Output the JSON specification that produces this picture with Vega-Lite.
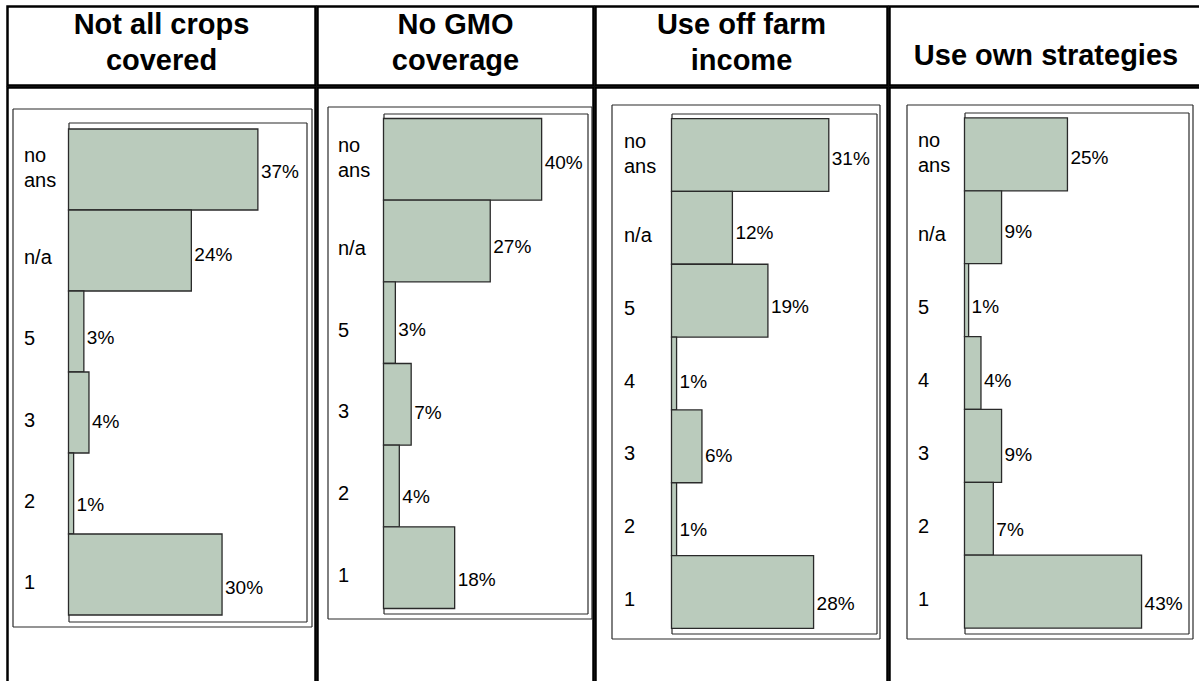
{
  "$schema": "https://vega.github.io/schema/vega-lite/v6.json",
  "padding": {"left": 5.5, "top": 4.5, "right": 0, "bottom": 0},
  "background": "white",
  "datasets": {
    "headers": [
      {"panel": "A", "title": "Not all crops\ncovered"},
      {"panel": "B", "title": "No GMO\ncoverage"},
      {"panel": "C", "title": "Use off farm\nincome"},
      {"panel": "D", "title": "Use own strategies"}
    ],
    "bars": [
      {"panel": "A", "answer": "no ans", "pct": 0.37},
      {"panel": "A", "answer": "n/a", "pct": 0.24},
      {"panel": "A", "answer": "5", "pct": 0.03},
      {"panel": "A", "answer": "3", "pct": 0.04},
      {"panel": "A", "answer": "2", "pct": 0.01},
      {"panel": "A", "answer": "1", "pct": 0.30},
      {"panel": "B", "answer": "no ans", "pct": 0.40},
      {"panel": "B", "answer": "n/a", "pct": 0.27},
      {"panel": "B", "answer": "5", "pct": 0.03},
      {"panel": "B", "answer": "3", "pct": 0.07},
      {"panel": "B", "answer": "2", "pct": 0.04},
      {"panel": "B", "answer": "1", "pct": 0.18},
      {"panel": "C", "answer": "no ans", "pct": 0.31},
      {"panel": "C", "answer": "n/a", "pct": 0.12},
      {"panel": "C", "answer": "5", "pct": 0.19},
      {"panel": "C", "answer": "4", "pct": 0.01},
      {"panel": "C", "answer": "3", "pct": 0.06},
      {"panel": "C", "answer": "2", "pct": 0.01},
      {"panel": "C", "answer": "1", "pct": 0.28},
      {"panel": "D", "answer": "no ans", "pct": 0.25},
      {"panel": "D", "answer": "n/a", "pct": 0.09},
      {"panel": "D", "answer": "5", "pct": 0.01},
      {"panel": "D", "answer": "4", "pct": 0.04},
      {"panel": "D", "answer": "3", "pct": 0.09},
      {"panel": "D", "answer": "2", "pct": 0.07},
      {"panel": "D", "answer": "1", "pct": 0.43}
    ]
  },
  "config": {
    "view": {"stroke": "black", "strokeWidth": 2.5},
    "concat": {"spacing": -5},
    "font": "Liberation Sans",
    "axis": {"domainColor": "#2a2a2a", "domainWidth": 1.2, "ticks": false, "tickSize": 0, "grid": false, "labels": false}
  },
  "spacing": -5,
  "hconcat": [
    {
      "spacing": -5,
      "vconcat": [
        {
          "data": {"name": "headers"},
          "transform": [{"filter": "datum.panel == 'A'"}],
          "width": 308, "height": 79,
          "view": {"stroke": "black", "strokeWidth": 2.5, "fill": "white"},
          "mark": {"type": "text", "fontWeight": "bold", "fontSize": 29, "lineBreak": "\n", "lineHeight": 36, "baseline": "middle", "align": "center", "dy": -21.5, "color": "black"},
          "encoding": {"text": {"field": "title", "type": "nominal"}}
        },
        {
          "data": {"name": "bars"},
          "transform": [{"filter": "datum.panel == 'A'"}],
          "width": 308, "height": 597,
          "resolve": {"scale": {"x": "independent", "y": "independent"}},
          "layer": [
            {
              "mark": {"type": "bar", "fill": "#bacbbc", "stroke": "#2a2a2a", "strokeWidth": 1.3},
              "encoding": {
                "y": {"field": "answer", "type": "nominal", "scale": {"domain": ["no ans", "n/a", "5", "3", "2", "1"], "range": [35, 534], "paddingInner": 0, "paddingOuter": 0.08},
                  "axis": {"orient": "left", "offset": -61, "title": null, "labels": true, "labelAlign": "left", "labelPadding": 45, "labelFontSize": 20, "labelColor": "black", "labelBaseline": "middle", "labelLineHeight": 25, "labelExpr": "datum.value == 'no ans' ? ['no', 'ans'] : datum.label", "labelOffset": {"condition": {"test": "datum.value == 'no ans'", "value": -13}, "value": 8}}},
                "x": {"field": "pct", "type": "quantitative", "scale": {"domain": [0, 0.465], "range": [61, 299], "nice": false}, "axis": {"orient": "top", "offset": -35, "title": null}}
              }
            },
            {
              "mark": {"type": "text", "align": "left", "baseline": "middle", "dx": 3, "dy": 8, "fontSize": 19, "color": "black"},
              "encoding": {
                "y": {"field": "answer", "type": "nominal", "scale": {"domain": ["no ans", "n/a", "5", "3", "2", "1"], "range": [35, 534], "paddingInner": 0, "paddingOuter": 0.08}, "axis": null},
                "x": {"field": "pct", "type": "quantitative", "scale": {"domain": [0, 0.465], "range": [61, 299], "nice": false}, "axis": null},
                "text": {"field": "pct", "type": "quantitative", "format": ".0%"}
              }
            },
            {
              "mark": {"type": "point", "opacity": 0},
              "encoding": {
                "y": {"field": "answer", "type": "nominal", "scale": {"domain": ["no ans", "n/a", "5", "3", "2", "1"], "range": [35, 534], "paddingInner": 0, "paddingOuter": 0.08}, "axis": {"orient": "right", "offset": -9, "title": null}},
                "x": {"field": "pct", "type": "quantitative", "scale": {"domain": [0, 0.465], "range": [61, 299], "nice": false}, "axis": {"orient": "bottom", "offset": -63, "title": null}}
              }
            },
            {
              "mark": {"type": "point", "opacity": 0},
              "encoding": {
                "y": {"field": "answer", "type": "nominal", "scale": {"domain": ["no ans", "n/a", "5", "3", "2", "1"], "range": [21, 539]}, "axis": {"orient": "left", "offset": -5, "title": null}},
                "x": {"field": "pct", "type": "quantitative", "scale": {"domain": [0, 0.465], "range": [5, 304], "nice": false}, "axis": {"orient": "top", "offset": -21, "title": null}}
              }
            },
            {
              "mark": {"type": "point", "opacity": 0},
              "encoding": {
                "y": {"field": "answer", "type": "nominal", "scale": {"domain": ["no ans", "n/a", "5", "3", "2", "1"], "range": [21, 539]}, "axis": {"orient": "right", "offset": -4, "title": null}},
                "x": {"field": "pct", "type": "quantitative", "scale": {"domain": [0, 0.465], "range": [5, 304], "nice": false}, "axis": {"orient": "bottom", "offset": -58, "title": null}}
              }
            }
          ]
        }
      ]
    },
    {
      "spacing": -5,
      "vconcat": [
        {
          "data": {"name": "headers"},
          "transform": [{"filter": "datum.panel == 'B'"}],
          "width": 276, "height": 79,
          "view": {"stroke": "black", "strokeWidth": 2.5, "fill": "white"},
          "mark": {"type": "text", "fontWeight": "bold", "fontSize": 29, "lineBreak": "\n", "lineHeight": 36, "baseline": "middle", "align": "center", "dy": -21.5, "color": "black"},
          "encoding": {"text": {"field": "title", "type": "nominal"}}
        },
        {
          "data": {"name": "bars"},
          "transform": [{"filter": "datum.panel == 'B'"}],
          "width": 276, "height": 597,
          "resolve": {"scale": {"x": "independent", "y": "independent"}},
          "layer": [
            {
              "mark": {"type": "bar", "fill": "#bacbbc", "stroke": "#2a2a2a", "strokeWidth": 1.3},
              "encoding": {
                "y": {"field": "answer", "type": "nominal", "scale": {"domain": ["no ans", "n/a", "5", "3", "2", "1"], "range": [26, 526], "paddingInner": 0, "paddingOuter": 0.061},
                  "axis": {"orient": "left", "offset": -66, "title": null, "labels": true, "labelAlign": "left", "labelPadding": 46, "labelFontSize": 20, "labelColor": "black", "labelBaseline": "middle", "labelLineHeight": 25, "labelExpr": "datum.value == 'no ans' ? ['no', 'ans'] : datum.label", "labelOffset": {"condition": {"test": "datum.value == 'no ans'", "value": -13}, "value": 8}}},
                "x": {"field": "pct", "type": "quantitative", "scale": {"domain": [0, 0.516], "range": [66, 270], "nice": false}, "axis": {"orient": "top", "offset": -26, "title": null}}
              }
            },
            {
              "mark": {"type": "text", "align": "left", "baseline": "middle", "dx": 3, "dy": 8, "fontSize": 19, "color": "black"},
              "encoding": {
                "y": {"field": "answer", "type": "nominal", "scale": {"domain": ["no ans", "n/a", "5", "3", "2", "1"], "range": [26, 526], "paddingInner": 0, "paddingOuter": 0.061}, "axis": null},
                "x": {"field": "pct", "type": "quantitative", "scale": {"domain": [0, 0.516], "range": [66, 270], "nice": false}, "axis": null},
                "text": {"field": "pct", "type": "quantitative", "format": ".0%"}
              }
            },
            {
              "mark": {"type": "point", "opacity": 0},
              "encoding": {
                "y": {"field": "answer", "type": "nominal", "scale": {"domain": ["no ans", "n/a", "5", "3", "2", "1"], "range": [26, 526], "paddingInner": 0, "paddingOuter": 0.061}, "axis": {"orient": "right", "offset": -6, "title": null}},
                "x": {"field": "pct", "type": "quantitative", "scale": {"domain": [0, 0.516], "range": [66, 270], "nice": false}, "axis": {"orient": "bottom", "offset": -71, "title": null}}
              }
            },
            {
              "mark": {"type": "point", "opacity": 0},
              "encoding": {
                "y": {"field": "answer", "type": "nominal", "scale": {"domain": ["no ans", "n/a", "5", "3", "2", "1"], "range": [19, 531]}, "axis": {"orient": "left", "offset": -10, "title": null}},
                "x": {"field": "pct", "type": "quantitative", "scale": {"domain": [0, 0.516], "range": [10, 274], "nice": false}, "axis": {"orient": "top", "offset": -19, "title": null}}
              }
            },
            {
              "mark": {"type": "point", "opacity": 0},
              "encoding": {
                "y": {"field": "answer", "type": "nominal", "scale": {"domain": ["no ans", "n/a", "5", "3", "2", "1"], "range": [19, 531]}, "axis": {"orient": "right", "offset": -2, "title": null}},
                "x": {"field": "pct", "type": "quantitative", "scale": {"domain": [0, 0.516], "range": [10, 274], "nice": false}, "axis": {"orient": "bottom", "offset": -66, "title": null}}
              }
            }
          ]
        }
      ]
    },
    {
      "spacing": -5,
      "vconcat": [
        {
          "data": {"name": "headers"},
          "transform": [{"filter": "datum.panel == 'C'"}],
          "width": 292, "height": 79,
          "view": {"stroke": "black", "strokeWidth": 2.5, "fill": "white"},
          "mark": {"type": "text", "fontWeight": "bold", "fontSize": 29, "lineBreak": "\n", "lineHeight": 36, "baseline": "middle", "align": "center", "dy": -21.5, "color": "black"},
          "encoding": {"text": {"field": "title", "type": "nominal"}}
        },
        {
          "data": {"name": "bars"},
          "transform": [{"filter": "datum.panel == 'C'"}],
          "width": 292, "height": 597,
          "resolve": {"scale": {"x": "independent", "y": "independent"}},
          "layer": [
            {
              "mark": {"type": "bar", "fill": "#bacbbc", "stroke": "#2a2a2a", "strokeWidth": 1.3},
              "encoding": {
                "y": {"field": "answer", "type": "nominal", "scale": {"domain": ["no ans", "n/a", "5", "4", "3", "2", "1"], "range": [26, 546], "paddingInner": 0, "paddingOuter": 0.069},
                  "axis": {"orient": "left", "offset": -76, "title": null, "labels": true, "labelAlign": "left", "labelPadding": 48, "labelFontSize": 20, "labelColor": "black", "labelBaseline": "middle", "labelLineHeight": 25, "labelExpr": "datum.value == 'no ans' ? ['no', 'ans'] : datum.label", "labelOffset": {"condition": {"test": "datum.value == 'no ans'", "value": -13}, "value": 8}}},
                "x": {"field": "pct", "type": "quantitative", "scale": {"domain": [0, 0.404], "range": [76, 281], "nice": false}, "axis": {"orient": "top", "offset": -26, "title": null}}
              }
            },
            {
              "mark": {"type": "text", "align": "left", "baseline": "middle", "dx": 3, "dy": 8, "fontSize": 19, "color": "black"},
              "encoding": {
                "y": {"field": "answer", "type": "nominal", "scale": {"domain": ["no ans", "n/a", "5", "4", "3", "2", "1"], "range": [26, 546], "paddingInner": 0, "paddingOuter": 0.069}, "axis": null},
                "x": {"field": "pct", "type": "quantitative", "scale": {"domain": [0, 0.404], "range": [76, 281], "nice": false}, "axis": null},
                "text": {"field": "pct", "type": "quantitative", "format": ".0%"}
              }
            },
            {
              "mark": {"type": "point", "opacity": 0},
              "encoding": {
                "y": {"field": "answer", "type": "nominal", "scale": {"domain": ["no ans", "n/a", "5", "4", "3", "2", "1"], "range": [26, 546], "paddingInner": 0, "paddingOuter": 0.069}, "axis": {"orient": "right", "offset": -11, "title": null}},
                "x": {"field": "pct", "type": "quantitative", "scale": {"domain": [0, 0.404], "range": [76, 281], "nice": false}, "axis": {"orient": "bottom", "offset": -51, "title": null}}
              }
            },
            {
              "mark": {"type": "point", "opacity": 0},
              "encoding": {
                "y": {"field": "answer", "type": "nominal", "scale": {"domain": ["no ans", "n/a", "5", "4", "3", "2", "1"], "range": [17, 551]}, "axis": {"orient": "left", "offset": -16, "title": null}},
                "x": {"field": "pct", "type": "quantitative", "scale": {"domain": [0, 0.404], "range": [16, 284], "nice": false}, "axis": {"orient": "top", "offset": -17, "title": null}}
              }
            },
            {
              "mark": {"type": "point", "opacity": 0},
              "encoding": {
                "y": {"field": "answer", "type": "nominal", "scale": {"domain": ["no ans", "n/a", "5", "4", "3", "2", "1"], "range": [17, 551]}, "axis": {"orient": "right", "offset": -8, "title": null}},
                "x": {"field": "pct", "type": "quantitative", "scale": {"domain": [0, 0.404], "range": [16, 284], "nice": false}, "axis": {"orient": "bottom", "offset": -46, "title": null}}
              }
            }
          ]
        }
      ]
    },
    {
      "spacing": -5,
      "vconcat": [
        {
          "data": {"name": "headers"},
          "transform": [{"filter": "datum.panel == 'D'"}],
          "width": 313, "height": 79,
          "view": {"stroke": "black", "strokeWidth": 2.5, "fill": "white"},
          "mark": {"type": "text", "fontWeight": "bold", "fontSize": 29, "lineBreak": "\n", "lineHeight": 36, "baseline": "middle", "align": "center", "dy": 9.5, "color": "black"},
          "encoding": {"text": {"field": "title", "type": "nominal"}}
        },
        {
          "data": {"name": "bars"},
          "transform": [{"filter": "datum.panel == 'D'"}],
          "width": 313, "height": 597,
          "resolve": {"scale": {"x": "independent", "y": "independent"}},
          "layer": [
            {
              "mark": {"type": "bar", "fill": "#bacbbc", "stroke": "#2a2a2a", "strokeWidth": 1.3},
              "encoding": {
                "y": {"field": "answer", "type": "nominal", "scale": {"domain": ["no ans", "n/a", "5", "4", "3", "2", "1"], "range": [25, 546], "paddingInner": 0, "paddingOuter": 0.075},
                  "axis": {"orient": "left", "offset": -75, "title": null, "labels": true, "labelAlign": "left", "labelPadding": 47, "labelFontSize": 20, "labelColor": "black", "labelBaseline": "middle", "labelLineHeight": 25, "labelExpr": "datum.value == 'no ans' ? ['no', 'ans'] : datum.label", "labelOffset": {"condition": {"test": "datum.value == 'no ans'", "value": -13}, "value": 8}}},
                "x": {"field": "pct", "type": "quantitative", "scale": {"domain": [0, 0.544], "range": [75, 299], "nice": false}, "axis": {"orient": "top", "offset": -25, "title": null}}
              }
            },
            {
              "mark": {"type": "text", "align": "left", "baseline": "middle", "dx": 3, "dy": 8, "fontSize": 19, "color": "black"},
              "encoding": {
                "y": {"field": "answer", "type": "nominal", "scale": {"domain": ["no ans", "n/a", "5", "4", "3", "2", "1"], "range": [25, 546], "paddingInner": 0, "paddingOuter": 0.075}, "axis": null},
                "x": {"field": "pct", "type": "quantitative", "scale": {"domain": [0, 0.544], "range": [75, 299], "nice": false}, "axis": null},
                "text": {"field": "pct", "type": "quantitative", "format": ".0%"}
              }
            },
            {
              "mark": {"type": "point", "opacity": 0},
              "encoding": {
                "y": {"field": "answer", "type": "nominal", "scale": {"domain": ["no ans", "n/a", "5", "4", "3", "2", "1"], "range": [25, 546], "paddingInner": 0, "paddingOuter": 0.075}, "axis": {"orient": "right", "offset": -14, "title": null}},
                "x": {"field": "pct", "type": "quantitative", "scale": {"domain": [0, 0.544], "range": [75, 299], "nice": false}, "axis": {"orient": "bottom", "offset": -51, "title": null}}
              }
            },
            {
              "mark": {"type": "point", "opacity": 0},
              "encoding": {
                "y": {"field": "answer", "type": "nominal", "scale": {"domain": ["no ans", "n/a", "5", "4", "3", "2", "1"], "range": [17, 551]}, "axis": {"orient": "left", "offset": -17, "title": null}},
                "x": {"field": "pct", "type": "quantitative", "scale": {"domain": [0, 0.544], "range": [17, 303], "nice": false}, "axis": {"orient": "top", "offset": -17, "title": null}}
              }
            },
            {
              "mark": {"type": "point", "opacity": 0},
              "encoding": {
                "y": {"field": "answer", "type": "nominal", "scale": {"domain": ["no ans", "n/a", "5", "4", "3", "2", "1"], "range": [17, 551]}, "axis": {"orient": "right", "offset": -10, "title": null}},
                "x": {"field": "pct", "type": "quantitative", "scale": {"domain": [0, 0.544], "range": [17, 303], "nice": false}, "axis": {"orient": "bottom", "offset": -46, "title": null}}
              }
            }
          ]
        }
      ]
    }
  ]
}
